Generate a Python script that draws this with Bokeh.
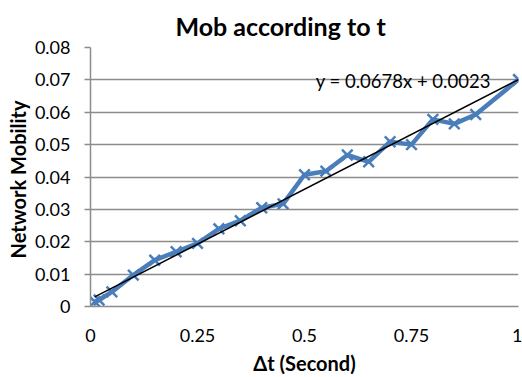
from bokeh.plotting import figure
from bokeh.models import Range1d, FixedTicker, Label
from bokeh.embed import file_html
from bokeh.resources import INLINE
import numpy as np

# Data
dt = [0.01, 0.02, 0.05, 0.10, 0.15, 0.20, 0.25, 0.30, 0.35, 0.40, 0.45,
      0.50, 0.55, 0.60, 0.65, 0.70, 0.75, 0.80, 0.85, 0.90, 1.00]
mob = [0.0015, 0.0020, 0.0045, 0.0097, 0.0143, 0.0169, 0.0195, 0.0240, 0.0265,
       0.0305, 0.0317, 0.0407, 0.0418, 0.0468, 0.0447, 0.0509, 0.0500, 0.0578,
       0.0564, 0.0593, 0.0701]
slope = 0.0678
intercept = 0.0023
title_text = "Mob according to t"
eq_label = "y = 0.0678x + 0.0023"
x_ticks = [0, 0.25, 0.5, 0.75, 1]
x_tick_labels = {0: "0", 0.25: "0.25", 0.5: "0.5", 0.75: "0.75", 1: "1"}
y_ticks = [0, 0.01, 0.02, 0.03, 0.04, 0.05, 0.06, 0.07, 0.08]
y_tick_labels = {0: "0", 0.01: "0.01", 0.02: "0.02", 0.03: "0.03", 0.04: "0.04",
                 0.05: "0.05", 0.06: "0.06", 0.07: "0.07", 0.08: "0.08"}

FONT = "Lato"
GRID = "#8c8c8c"

p = figure(width=522, height=377, output_backend="svg", toolbar_location=None,
           x_range=Range1d(0, 1), y_range=Range1d(0, 0.08),
           min_border_left=90, min_border_right=4, min_border_top=47,
           min_border_bottom=70)
p.outline_line_color = None
p.background_fill_color = "white"
p.border_fill_color = "white"

p.title.text = title_text
p.title.text_font = FONT
p.title.text_font_style = "bold"
p.title.text_font_size = "25px"
p.title.text_color = "black"
p.title.align = "left"
p.title.offset = 85
p.title.standoff = 14

# Axes
p.xaxis.ticker = FixedTicker(ticks=x_ticks)
p.xaxis.major_label_overrides = x_tick_labels
p.yaxis.ticker = FixedTicker(ticks=y_ticks)
p.yaxis.major_label_overrides = y_tick_labels
for ax in (p.xaxis, p.yaxis):
    ax.major_label_text_font = FONT
    ax.major_label_text_font_size = "18px"
    ax.major_label_text_color = "black"
    ax.axis_label_text_font = FONT
    ax.axis_label_text_font_style = "bold"
    ax.axis_label_text_color = "black"
    ax.axis_label_text_font_size = "20px"
    ax.minor_tick_line_color = None
    ax.axis_line_color = GRID
    ax.axis_line_width = 1.5

p.xaxis.axis_label = "\u0394t (Second)"
p.xaxis.major_tick_line_color = None
p.xaxis.major_label_standoff = 16
p.xaxis.axis_label_standoff = 6

p.yaxis.axis_label = "Network  Mobility"
p.yaxis.major_tick_line_color = GRID
p.yaxis.major_tick_line_width = 1.5
p.yaxis.major_tick_out = 6
p.yaxis.major_tick_in = 0
p.yaxis.major_label_standoff = 14
p.yaxis.axis_label_standoff = 2

p.xgrid.grid_line_color = None
p.ygrid.grid_line_color = GRID
p.ygrid.grid_line_width = 1.5

# Series
p.line(dt, mob, line_color="#4A7EBB", line_width=4.5)
p.scatter(dt, mob, marker="x", size=15, line_color="#4A7EBB", line_width=2.5)

# Trend line from the fitted coefficients
tx = np.array([dt[0], dt[-1]])
p.line(tx, slope * tx + intercept, line_color="black", line_width=1.5)

p.add_layout(Label(x=0.526, y=0.0698, text=eq_label, text_font=FONT,
                   text_font_size="18.5px", text_baseline="middle",
                   text_align="left", text_color="black"))

open("out.html", "w").write(file_html(p, INLINE))
